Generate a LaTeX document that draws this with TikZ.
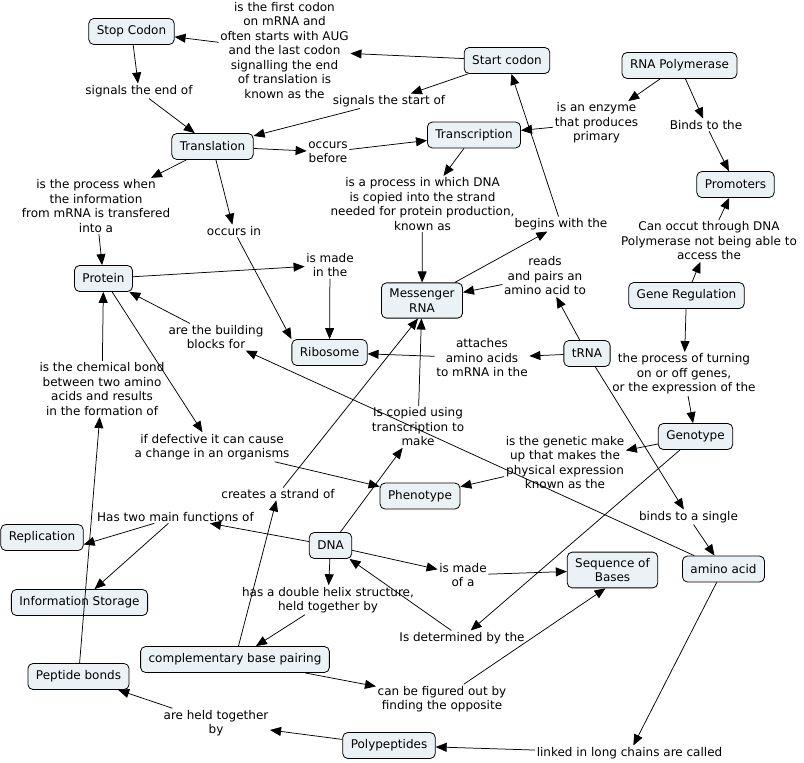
\documentclass[tikz,border=0pt]{standalone}
\usepackage{fontspec}
\setmainfont{DejaVu Sans}
\usetikzlibrary{arrows.meta}
\definecolor{cfill}{RGB}{235,242,245}
\tikzset{
  concept/.style={draw, rounded corners=5pt, fill=cfill, line width=0.8pt, align=center,
    inner xsep=8pt, inner ysep=6pt, minimum height=26pt, font=\fontsize{12}{14.5}\selectfont},
  linkph/.style={align=center, inner sep=1.5pt, font=\fontsize{12}{14.5}\selectfont},
  conn/.style={line width=0.75pt, -{Triangle[length=11pt,width=9pt]}},
  seg/.style={line width=0.75pt}
}
\begin{document}
\begin{tikzpicture}[x=1pt,y=-1pt]
\useasboundingbox[fill=white] (0,0) rectangle (804,763);
% concepts
\node[concept] (stop) at (131.5,31.5) {Stop Codon};
\node[concept] (transl) at (212.5,146.5) {Translation};
\node[concept] (start) at (507,60.5) {Start codon};
\node[concept] (rnapol) at (679.5,65.5) {RNA Polymerase};
\node[concept] (transc) at (474,135) {Transcription};
\node[concept] (prom) at (735.5,184.5) {Promoters};
\node[concept] (protein) at (103.5,278.5) {Protein};
\node[concept] (ribo) at (329.5,352.5) {Ribosome};
\node[concept] (mrna) at (422,300.5) {Messenger\\RNA};
\node[concept] (genereg) at (686.5,295.5) {Gene Regulation};
\node[concept] (trna) at (587,353.5) {tRNA};
\node[concept] (genotype) at (695.5,436.5) {Genotype};
\node[concept] (pheno) at (420,496) {Phenotype};
\node[concept] (dna) at (330.5,545.5) {DNA};
\node[concept] (repl) at (42,537.5) {Replication};
\node[concept] (info) at (79.5,602.5) {Information Storage};
\node[concept] (pep) at (78.5,676.5) {Peptide bonds};
\node[concept] (cbp) at (235,659.5) {complementary base pairing};
\node[concept] (poly) at (389,745.5) {Polypeptides};
\node[concept] (seq) at (612.5,570) {Sequence of\\Bases};
\node[concept] (amino) at (723.5,569) {amino acid};
% linking phrases
\node[linkph] (l1) at (284.5,50.5) {is the first codon\\on mRNA and\\often starts with AUG\\and the last codon\\signalling the end\\of translation is\\known as the};
\node[linkph] (l2) at (139,91) {signals the end of};
\node[linkph] (l3) at (389,101) {signals the start of};
\node[linkph] (l4) at (328,152) {occurs\\before};
\node[linkph] (l5) at (596.5,123) {is an enzyme\\that produces\\primary};
\node[linkph] (l6) at (706,125) {Binds to the};
\node[linkph] (l7) at (96,206) {is the process when\\the information\\from mRNA is transfered\\into a};
\node[linkph] (l8) at (234,231) {occurs in};
\node[linkph] (l9) at (422.5,204) {is a process in which DNA\\is copied into the strand\\needed for protein production,\\known as};
\node[linkph] (l10) at (561,224) {begins with the};
\node[linkph] (l11) at (709,241) {Can occut through DNA\\Polymerase not being able to\\access the};
\node[linkph] (l12) at (330,265) {is made\\in the};
\node[linkph] (l13) at (545,276) {reads\\and pairs an\\amino acid to};
\node[linkph] (l14) at (216,337) {are the building\\blocks for};
\node[linkph] (l15) at (482,358) {attaches\\amino acids\\to mRNA in the};
\node[linkph] (l16) at (684,374) {the process of turning\\on or off genes,\\or the expression of the};
\node[linkph] (l17) at (102,389) {is the chemical bond\\between two amino\\acids and results\\in the formation of};
\node[linkph] (l18) at (418,427) {Is copied using\\transcription to\\make};
\node[linkph] (l19) at (212,447) {if defective it can cause\\a change in an organisms};
\node[linkph] (l20) at (565,462.5) {is the genetic make\\up that makes the\\physical expression\\known as the};
\node[linkph] (l21) at (278,494) {creates a strand of};
\node[linkph] (l22) at (175.5,517) {Has two main functions of};
\node[linkph] (l23) at (688.5,517) {binds to a single};
\node[linkph] (l24) at (463,575) {is made\\of a};
\node[linkph] (l25) at (328,600) {has a double helix structure,\\held together by};
\node[linkph] (l26) at (462,638) {Is determined by the};
\node[linkph] (l27) at (442,699) {can be figured out by\\finding the opposite};
\node[linkph] (l28) at (216,723) {are held together\\by};
\node[linkph] (l29) at (629.5,753) {linked in long chains are called};
% connectors
\draw[conn] (start) -- (l1);
\draw[conn] (l1) -- (stop);
\draw[conn] (stop) -- (l2);
\draw[conn] (l2) -- (transl);
\draw[conn] (start) -- (l3);
\draw[conn] (l3) -- (transl);
\draw[conn] (transl) -- (l4);
\draw[conn] (l4) -- (transc);
\draw[conn] (rnapol) -- (l5);
\draw[conn] (l5) -- (transc);
\draw[conn] (rnapol) -- (l6);
\draw[conn] (l6) -- (prom);
\draw[conn] (transl) -- (l7);
\draw[conn] (l7) -- (protein);
\draw[conn] (transl) -- (l8);
\draw[conn] (l8) -- (ribo.north west);
\draw[conn] (transc) -- (l9);
\draw[conn] (l9) -- (mrna);
\draw[conn] (mrna) -- (l10);
\draw[conn] (l10) -- (start);
\draw[conn] (genereg) -- (l11);
\draw[conn] (l11) -- (prom);
\draw[conn] (protein) -- (l12);
\draw[conn] (l12) -- (ribo);
\draw[conn] (trna) -- (l13);
\draw[conn] (l13) -- (mrna);
\draw[conn] (amino) -- (l14);
\draw[conn] (l14) -- (protein);
\draw[conn] (trna) -- (l15);
\draw[conn] (l15) -- (ribo);
\draw[conn] (genereg) -- (l16);
\draw[conn] (l16) -- (genotype);
\draw[conn] (pep) -- (l17);
\draw[conn] (l17) -- (protein);
\draw[conn] (l18) -- (mrna);
\draw[conn] (dna) -- (l18);
\draw[conn] (protein) -- (l19);
\draw[conn] (l19) -- (pheno);
\draw[conn] (genotype) -- (l20);
\draw[conn] (l20) -- (pheno);
\draw[conn] (cbp) -- (l21);
\draw[conn] (l21) -- ([xshift=-4pt]mrna.south);
\draw[conn] (dna) -- (l22);
\draw[conn] (l22) -- ([yshift=-7pt]repl.east);
\draw[conn] (l22) -- (info);
\draw[conn] (trna) -- (l23);
\draw[conn] (l23) -- (amino);
\draw[conn] (dna) -- (l24);
\draw[conn] (l24) -- (seq);
\draw[conn] (dna) -- (l25);
\draw[conn] (l25) -- (cbp);
\draw[conn] (genotype) -- (l26);
\draw[conn] (l26) -- (dna);
\draw[conn] (cbp) -- (l27);
\draw[conn] (l27) -- ([xshift=-7pt]seq.south);
\draw[conn] (amino) -- (l29);
\draw[conn] (l29) -- (poly);
\draw[conn] (poly) -- (l28);
\draw[conn] (l28) -- (pep);
\end{tikzpicture}
\end{document}
